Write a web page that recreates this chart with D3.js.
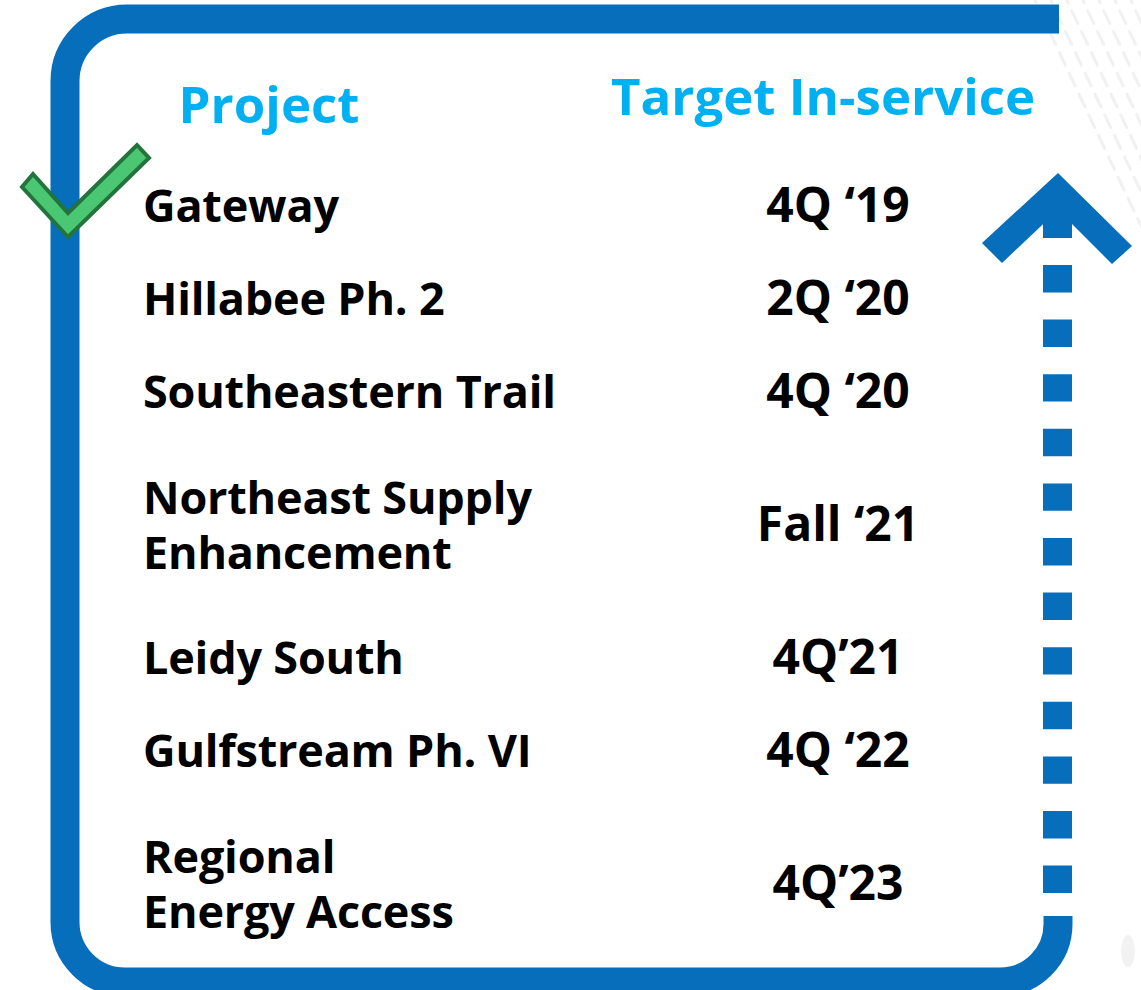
<!DOCTYPE html>
<html>
<head>
<meta charset="utf-8">
<script src="https://cdn.jsdelivr.net/npm/d3@7"></script>
<style>
  html, body { margin: 0; padding: 0; background: #fff; }
  svg { display: block; }
</style>
</head>
<body>
<svg id="chart"></svg>
<script>
// project timeline data
const projects = [
  ["Gateway"],
  ["Hillabee Ph. 2"],
  ["Southeastern Trail"],
  ["Northeast Supply", "Enhancement"],
  ["Leidy South"],
  ["Gulfstream Ph. VI"],
  ["Regional", "Energy Access"]
];
const targets = ["4Q \u201819", "2Q \u201820", "4Q \u201820", "Fall \u201821", "4Q\u201921", "4Q \u201822", "4Q\u201923"];
const completed = [true, false, false, false, false, false, false];
const headers = ["Project", "Target In-service"];

const width = 1141, height = 990;
const blue = "#066EBA", cyan = "#00B0F0";
const font = "'Open Sans', 'Noto Sans', sans-serif";

const svg = d3.select("#chart")
    .attr("width", width)
    .attr("height", height)
    .attr("viewBox", [0, 0, width, height]);

// faint background streaks, top right
const streaks = svg.append("g")
    .attr("stroke", "#f1f1f1")
    .attr("stroke-width", 3)
    .attr("stroke-linecap", "round")
    .attr("stroke-dasharray", "14 9");
d3.range(9).forEach(i => {
  const x0 = 1030 + i * 16;
  streaks.append("line")
      .attr("x1", x0).attr("y1", -10)
      .attr("x2", x0 + 160).attr("y2", 330);
});
svg.append("ellipse")
    .attr("cx", 1128).attr("cy", 951).attr("rx", 7).attr("ry", 16)
    .attr("fill", "#f2f2f2");

// the frame
const frame = d3.path();
frame.moveTo(1059, 19);
frame.lineTo(65 + 62, 19);
frame.arcTo(65, 19, 65, 19 + 62, 62);
frame.lineTo(65, 982 - 60);
frame.arcTo(65, 982, 65 + 60, 982, 60);
frame.lineTo(1058 - 58, 982);
frame.arcTo(1058, 982, 1058, 982 - 58, 58);
frame.lineTo(1058, 916);

svg.append("path")
    .attr("d", frame.toString())
    .attr("fill", "none")
    .attr("stroke", blue)
    .attr("stroke-width", 29);

// dashed arrow shaft
svg.append("line")
    .attr("x1", 1057.5).attr("y1", 893)
    .attr("x2", 1057.5).attr("y2", 260)
    .attr("stroke", blue)
    .attr("stroke-width", 29)
    .attr("stroke-dasharray", "27.4 27.2");

// arrow head + stub
svg.append("rect")
    .attr("x", 1043).attr("y", 200).attr("width", 29).attr("height", 38)
    .attr("fill", blue);
svg.append("polygon")
    .attr("points", [[1058, 173], [1132, 246], [1112, 264], [1058, 210], [1002, 263], [982, 243]].join(" "))
    .attr("fill", blue);

// headers
svg.append("g")
    .attr("font-family", font)
    .attr("font-weight", 700)
    .attr("font-size", 51)
    .attr("fill", cyan)
  .selectAll("text")
  .data(headers)
  .join("text")
    .attr("x", (d, i) => i ? 823 : 269)
    .attr("y", (d, i) => i ? 115 : 123)
    .attr("text-anchor", "middle")
    .text(d => d);

// row layout
const top0 = 158.5;
const rowH = lines => 93 + 80 * (lines - 1);
const tops = d3.cumsum([0, ...projects.map(p => rowH(p.length))]);
const rows = projects.map((p, i) => ({
  lines: p,
  target: targets[i],
  done: completed[i],
  cy: top0 + tops[i] + rowH(p.length) / 2
}));

const lineGap = 55;
const labels = svg.append("g")
    .attr("font-family", font)
    .attr("font-weight", 700)
    .attr("fill", "#000");

labels.selectAll("text.project")
  .data(rows)
  .join("text")
    .attr("class", "project")
    .attr("font-size", 45)
  .selectAll("tspan")
  .data(d => d.lines.map((t, j) => ({t, y: d.cy + 17 + (j - (d.lines.length - 1) / 2) * lineGap})))
  .join("tspan")
    .attr("x", 143)
    .attr("y", d => d.y)
    .attr("letter-spacing", -0.2)
    .text(d => d.t);

labels.selectAll("text.target")
  .data(rows)
  .join("text")
    .attr("class", "target")
    .attr("font-size", 48)
    .attr("x", 838)
    .attr("y", d => d.cy + 17)
    .attr("text-anchor", "middle")
    .text(d => d.target);

// check marks for in-service projects
const check = [[33, 174], [68, 213], [137, 145], [149, 158], [68, 237], [22, 187]];
svg.append("g")
  .selectAll("polygon")
  .data(rows.filter(d => d.done))
  .join("polygon")
    .attr("transform", d => `translate(0,${d.cy - 205})`)
    .attr("points", check.join(" "))
    .attr("fill", "#4BC774")
    .attr("stroke", "#23743C")
    .attr("stroke-width", 4)
    .attr("stroke-linejoin", "miter");
</script>
</body>
</html>
